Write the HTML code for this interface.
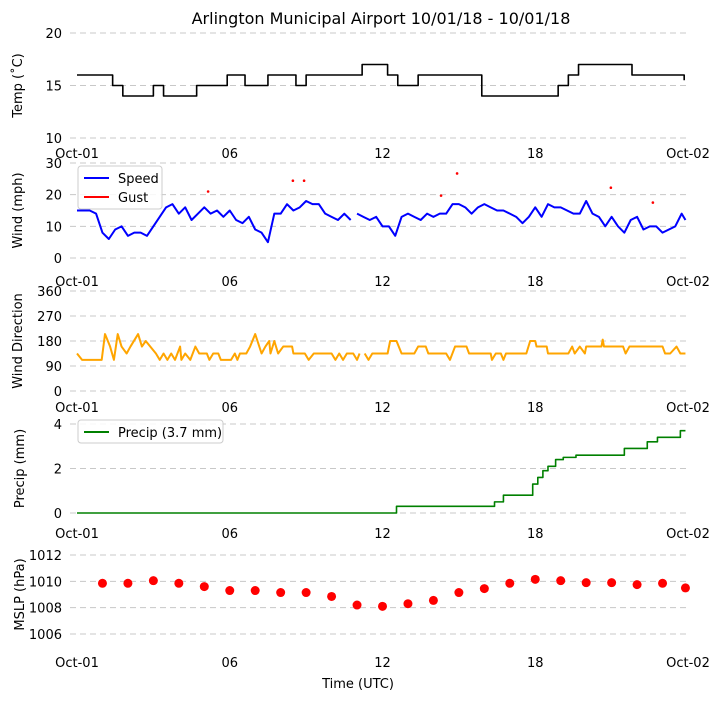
<!DOCTYPE html>
<html><head><meta charset="utf-8"><style>
body{margin:0;background:#fff;font-family:"Liberation Sans","DejaVu Sans",sans-serif}
svg text{font-family:"DejaVu Sans","Liberation Sans",sans-serif}
</style></head><body>
<svg id="c" width="717" height="700" viewBox="0 0 717 700" xmlns="http://www.w3.org/2000/svg">
<text x="381" y="24" text-anchor="middle" font-size="16">Arlington Municipal Airport 10/01/18 - 10/01/18</text>
<text x="358" y="688" text-anchor="middle" font-size="13">Time (UTC)</text>
</svg>
<script>
const xTickHours=[0,6,12,18,24];
const xTickLabels=["Oct-01","06","12","18","Oct-02"];
const tempTimes=[0,1.4,1.8,3,3.4,4.7,5.9,6.6,7.5,8.6,9,11.2,12.2,12.6,13.4,15.9,18.9,19.3,19.7,21.8,23.85];
const tempVals=[16,15,14,15,14,15,16,15,16,15,16,17,16,15,16,14,15,16,17,16,15.5];
const windTimes=[0,0.5,0.75,1,1.25,1.5,1.75,2,2.25,2.5,2.75,3,3.25,3.5,3.75,4,4.25,4.5,4.75,5,5.25,5.5,5.75,6,6.25,6.5,6.75,7,7.25,7.5,7.75,8,8.25,8.5,8.75,9,9.25,9.5,9.75,10,10.25,10.5,10.75,null,11,11.25,11.5,11.75,12,12.25,12.5,12.75,13,13.25,13.5,13.75,14,14.25,14.5,14.75,15,15.25,15.5,15.75,16,16.25,16.5,16.75,17,17.25,17.5,17.75,18,18.25,18.5,18.75,19,19.25,19.5,19.75,20,20.25,20.5,20.75,21,21.25,21.5,21.75,22,22.25,22.5,22.75,23,23.25,23.5,23.75,23.9];
const windSpeed=[15,15,14,8,6,9,10,7,8,8,7,10,13,16,17,14,16,12,14,16,14,15,13,15,12,11,13,9,8,5,14,14,17,15,16,18,17,17,14,13,12,14,12,null,14,13,12,13,10,10,7,13,14,13,12,14,13,14,14,17,17,16,14,16,17,16,15,15,14,13,11,13,16,13,17,16,16,15,14,14,18,14,13,10,13,10,8,12,13,9,10,10,8,9,10,14,12];
const gustTimes=[5.15,8.48,8.92,14.3,14.93,20.97,22.62];
const gustVals=[21,24.4,24.4,19.7,26.7,22.2,17.5];
const dirTimes=[0,0.2,0.97,1.1,1.3,1.45,1.6,1.75,1.95,2.1,2.4,2.55,2.7,3.1,3.25,3.4,3.55,3.7,3.85,4.05,4.1,4.25,4.45,4.65,4.8,5.1,5.2,5.35,5.55,5.65,6.05,6.2,6.3,6.4,6.65,6.8,7.0,7.25,7.4,7.55,7.6,7.75,7.9,8.1,8.45,8.5,8.95,9.1,9.3,10.0,10.15,10.3,10.45,10.6,10.85,11.0,11.1,null,11.3,11.45,11.6,12.15,12.2,12.3,12.55,12.75,13.25,13.4,13.7,13.8,14.5,14.65,14.85,15.3,15.4,16.25,16.3,16.45,16.65,16.75,16.85,17.65,17.8,18.0,18.05,18.45,18.5,19.3,19.45,19.55,19.75,19.95,20.0,20.6,20.65,20.7,21.45,21.55,21.7,23.0,23.1,23.3,23.55,23.7,23.9];
const dirVals=[135,112,112,205,160,112,205,160,135,160,205,160,180,135,112,135,112,135,112,160,112,135,112,160,135,135,112,135,135,112,112,135,112,135,135,160,205,135,160,180,135,180,135,160,160,135,135,112,135,135,112,135,112,135,135,112,135,null,135,112,135,135,135,180,180,135,135,160,160,135,135,112,160,160,135,135,112,135,135,112,135,135,180,180,160,160,135,135,160,135,160,135,160,160,185,160,160,135,160,160,135,135,160,135,135];
const precipTimes=[0,12.55,16.4,16.75,17.9,18.1,18.3,18.5,18.8,19.1,19.6,19.8,21.5,22.4,22.8,23.1,23.7,23.9];
const precipVals=[0,0.3,0.5,0.8,1.3,1.6,1.9,2.1,2.4,2.5,2.6,2.6,2.9,3.2,3.4,3.4,3.7,3.7];
const mslpTimes=[1,2,3,4,5,6,7,8,9,10,11,12,13,14,15,16,17,18,19,20,21,22,23,23.9];
const mslpVals=[1009.85,1009.85,1010.05,1009.85,1009.6,1009.3,1009.3,1009.15,1009.15,1008.85,1008.2,1008.1,1008.3,1008.55,1009.15,1009.45,1009.85,1010.15,1010.05,1009.9,1009.9,1009.75,1009.85,1009.5];

const svg=document.getElementById('c');const NS='http://www.w3.org/2000/svg';
function el(t,a,p){const e=document.createElementNS(NS,t);for(const k in a)e.setAttribute(k,a[k]);(p||svg).appendChild(e);return e;}
const X=h=>77+h*(611/24);
const panels=[
 {name:'temp',top:33,bot:138,min:10,max:20,ticks:[10,15,20],label:'Temp (˚C)',lx:22,xl:158},
 {name:'wind',top:163,bot:258,min:0,max:30,ticks:[0,10,20,30],label:'Wind (mph)',lx:22,xl:286},
 {name:'direction',top:291,bot:391,min:0,max:360,ticks:[0,90,180,270,360],label:'Wind Direction',lx:22,xl:412},
 {name:'precip',top:424,bot:513,min:0,max:4,ticks:[0,2,4],label:'Precip (mm)',lx:24,xl:538},
 {name:'mslp',top:555,bot:634,min:1006,max:1012,ticks:[1006,1008,1010,1012],label:'MSLP (hPa)',lx:24,xl:667}];
panels.forEach(p=>{
 p.Y=v=>p.bot-(v-p.min)/(p.max-p.min)*(p.bot-p.top);
 const g=el('g',{});
 
 
 p.g=g;
 p.ticks.forEach(t=>{
  const l=el('line',{x1:70,x2:690,y1:p.Y(t),y2:p.Y(t),stroke:'#c8c8c8','stroke-dasharray':'6,4','stroke-width':1},g);
  
  
  const tx=el('text',{x:62,y:p.Y(t)+5,'text-anchor':'end','font-size':13},g);tx.textContent=t;
  
  
 });
 xTickHours.forEach((h,i)=>{
  const tx=el('text',{x:X(h),y:p.xl,'text-anchor':'middle','font-size':13},g);tx.textContent=xTickLabels[i];
  
  
 });
 const cy=(p.top+p.bot)/2;
 const yl=el('text',{x:p.lx,y:cy,'text-anchor':'middle','font-size':13,transform:`rotate(-90 ${p.lx} ${cy})`},g);yl.textContent=p.label;
 
 
});
function line(p,ts,vs,color,step,name){
 let d='',prev=null;
 ts.forEach((t,i)=>{
  if(t===null||vs[i]===null){prev=null;return;}
  const x=X(t),y=p.Y(vs[i]);
  if(prev===null)d+=`M${x},${y}`;else if(step)d+=`H${x}V${y}`;else d+=`L${x},${y}`;
  prev=[x,y];
 });
 const e=el('path',{d,fill:'none',stroke:color,'stroke-width':step?1.6:2,'stroke-linejoin':'round'},p.g);
 
 
}
line(panels[0],tempTimes,tempVals,'#000',true,'temp-line');
line(panels[1],windTimes,windSpeed,'#0000ff',false,'wind-speed-line');
gustTimes.forEach((t,i)=>{
 const c=el('circle',{cx:X(t),cy:panels[1].Y(gustVals[i]),r:1.3,fill:'#ff0000'},panels[1].g);
 
 
});
line(panels[2],dirTimes,dirVals,'#ffa500',false,'wind-direction-line');
line(panels[3],precipTimes,precipVals,'#008000',true,'precip-line');
mslpTimes.forEach((t,i)=>{
 const c=el('circle',{cx:X(t),cy:panels[4].Y(mslpVals[i]),r:4.5,fill:'#ff0000'},panels[4].g);
 
 
});
function legend(g,x,y,w,h,items,name){
 const lg=el('g',{},g);
 
 
 el('rect',{x,y,width:w,height:h,rx:3,fill:'#fff',stroke:'#ccc','fill-opacity':0.85},lg);
 items.forEach((it,i)=>{
  const yy=y+12+i*19;
  el('line',{x1:x+6,x2:x+31,y1:yy,y2:yy,stroke:it[1],'stroke-width':2},lg);
  const t=el('text',{x:x+40,y:yy+5,'font-size':13},lg);t.textContent=it[0];
  
  
 });
}
legend(panels[1].g,78,166,84,43,[['Speed','#0000ff'],['Gust','#ff0000']],'wind-legend');
legend(panels[3].g,78,420,145,23,[['Precip (3.7 mm)','#008000']],'precip-legend');
</script>
</body></html>
